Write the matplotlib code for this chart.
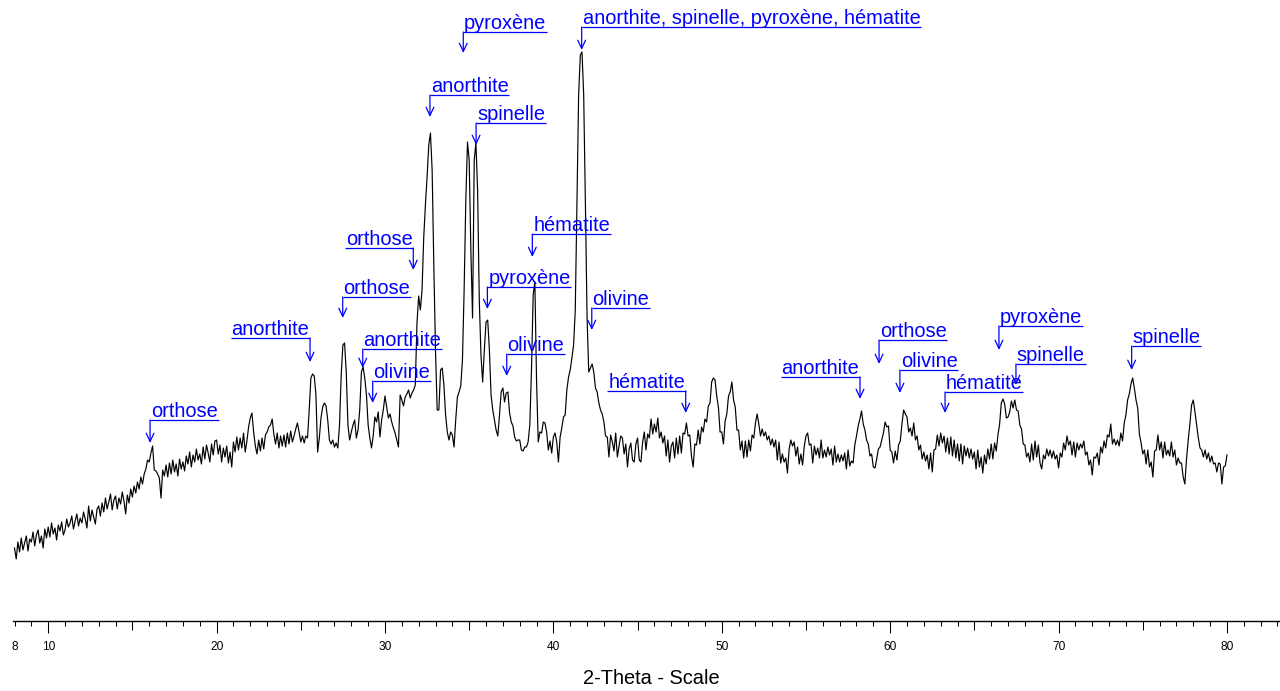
import numpy as np
import matplotlib
matplotlib.use("Agg")
import matplotlib.pyplot as plt

plt.rcParams['font.family'] = ['Liberation Sans', 'DejaVu Sans']

# Scan grid: 8.0 -> 80.0 deg 2-theta, 0.1 deg step
two_theta_start = 8.0
two_theta_step = 0.1

# Intensity (Lin counts), one row per degree
counts = [
    74, 63, 80, 70, 84, 72, 79, 86, 71, 83,            # 8
    80, 90, 76, 87, 92, 79, 86, 74, 93, 84,            # 9
    95, 85, 99, 88, 94, 82, 97, 91, 100, 87,           # 10
    92, 103, 95, 99, 106, 93, 101, 108, 96, 104,       # 11
    99, 110, 103, 94, 116, 101, 112, 105, 98, 113,     # 12
    116, 106, 119, 110, 124, 113, 120, 128, 112, 122,  # 13
    126, 113, 124, 118, 130, 121, 108, 127, 119, 133,  # 14
    125, 136, 129, 140, 133, 145, 138, 148, 153, 162,  # 15
    160, 169, 176, 152, 151, 148, 144, 124, 152, 146,  # 16
    157, 145, 159, 148, 162, 150, 158, 146, 163, 153,  # 17
    160, 151, 166, 158, 170, 155, 167, 160, 173, 162,  # 18
    168, 158, 175, 163, 177, 169, 160, 178, 167, 181,  # 19
    182, 168, 177, 160, 174, 165, 176, 159, 170, 155,  # 20
    180, 170, 185, 172, 184, 174, 189, 170, 181, 195,  # 21
    204, 209, 190, 176, 168, 182, 171, 184, 173, 187,  # 22
    190, 195, 197, 203, 188, 178, 189, 174, 186, 176,  # 23
    187, 175, 189, 178, 191, 180, 186, 193, 199, 190,  # 24
    180, 186, 179, 186, 184, 212, 244, 248, 246, 227,  # 25
    170, 184, 204, 215, 219, 216, 202, 182, 178, 182,  # 26
    175, 179, 174, 197, 247, 277, 279, 250, 197, 182,  # 27
    190, 197, 202, 184, 192, 212, 250, 255, 244, 227,  # 28
    197, 184, 174, 186, 205, 200, 210, 185, 202, 212,  # 29
    226, 215, 204, 208, 200, 194, 189, 182, 175, 227,  # 30
    222, 216, 225, 228, 232, 224, 229, 232, 237, 299,  # 31
    326, 312, 332, 384, 417, 445, 477, 489, 452, 357,  # 32
    272, 212, 212, 252, 254, 237, 207, 190, 182, 190,  # 33
    187, 175, 202, 225, 230, 236, 262, 332, 422, 480,  # 34
    462, 372, 304, 462, 479, 432, 322, 267, 240, 272,  # 35
    300, 302, 272, 227, 212, 202, 192, 186, 207, 230,  # 36
    234, 220, 229, 230, 209, 200, 196, 185, 181, 182,  # 37
    182, 172, 171, 175, 175, 180, 197, 252, 327, 340,  # 38
    242, 180, 190, 189, 200, 199, 190, 172, 181, 169,  # 39
    185, 189, 180, 160, 185, 194, 205, 207, 232, 245,  # 40
    252, 264, 277, 312, 422, 527, 567, 570, 527, 420,  # 41
    305, 250, 254, 258, 250, 234, 230, 219, 212, 208,  # 42
    200, 186, 185, 165, 187, 180, 171, 189, 165, 176,  # 43
    186, 184, 168, 178, 155, 173, 179, 162, 160, 178,  # 44
    184, 162, 160, 180, 190, 172, 188, 184, 203, 188,  # 45
    198, 190, 204, 184, 190, 179, 186, 166, 182, 160,  # 46
    176, 180, 164, 184, 168, 186, 169, 189, 188, 199,  # 47
    186, 187, 166, 155, 178, 177, 192, 178, 195, 190,  # 48
    203, 200, 216, 219, 240, 244, 242, 226, 215, 190,  # 49
    190, 178, 201, 208, 226, 230, 240, 222, 215, 192,  # 50
    192, 172, 181, 164, 181, 165, 182, 171, 187, 184,  # 51
    199, 208, 198, 186, 193, 186, 190, 182, 186, 177,  # 52
    183, 175, 182, 162, 180, 159, 168, 160, 164, 149,  # 53
    173, 182, 176, 180, 166, 175, 158, 168, 157, 176,  # 54
    186, 189, 177, 178, 159, 176, 167, 174, 164, 182,  # 55
    164, 172, 165, 175, 167, 173, 157, 176, 160, 168,  # 56
    160, 167, 161, 169, 153, 172, 156, 161, 159, 177,  # 57
    186, 196, 203, 211, 198, 192, 182, 178, 166, 168,  # 58
    155, 154, 163, 173, 175, 182, 189, 200, 195, 196,  # 59
    172, 170, 159, 171, 162, 177, 181, 198, 212, 208,  # 60
    205, 190, 194, 186, 199, 182, 186, 172, 177, 163,  # 61
    170, 161, 167, 153, 169, 150, 172, 173, 187, 176,  # 62
    189, 179, 186, 170, 184, 168, 185, 166, 182, 164,  # 63
    178, 161, 178, 158, 176, 166, 174, 164, 173, 163,  # 64
    170, 153, 172, 155, 165, 149, 167, 158, 173, 163,  # 65
    178, 163, 179, 171, 187, 198, 219, 223, 218, 204,  # 66
    205, 210, 221, 214, 222, 212, 211, 197, 193, 178,  # 67
    177, 165, 169, 160, 178, 162, 181, 165, 177, 159,  # 68
    153, 167, 163, 173, 166, 172, 164, 171, 163, 167,  # 69
    154, 169, 165, 179, 172, 186, 177, 181, 167, 180,  # 70
    165, 179, 172, 178, 174, 181, 167, 170, 157, 162,  # 71
    147, 165, 164, 169, 157, 175, 169, 181, 174, 187,  # 72
    185, 198, 178, 183, 177, 182, 176, 189, 181, 199,  # 73
    207, 222, 228, 238, 244, 234, 222, 214, 188, 179,  # 74
    168, 172, 158, 172, 155, 160, 145, 171, 172, 187,  # 75
    172, 180, 164, 180, 167, 172, 166, 180, 165, 172,  # 76
    157, 164, 159, 159, 145, 138, 163, 182, 198, 217,  # 77
    222, 210, 197, 184, 174, 172, 165, 172, 163, 169,  # 78
    160, 166, 158, 159, 150, 159, 158, 138, 155, 156,  # 79
    167,                                               # 80
]
two_theta = two_theta_start + two_theta_step * np.arange(len(counts))

# Phase identification labels
phase_names = [
    "orthose", "anorthite", "orthose", "orthose", "anorthite", "olivine",
    "anorthite", "pyroxène", "spinelle",
    "anorthite, spinelle, pyroxène, hématite",
    "hématite", "pyroxène", "olivine", "olivine", "hématite",
    "anorthite", "orthose", "olivine", "pyroxène", "spinelle", "hématite",
    "spinelle",
]
phase_2theta = [
    16.05, 25.55, 27.49, 31.68, 28.68, 29.27,
    32.67, 34.65, 35.41,
    41.68,
    38.75, 36.08, 37.23, 42.28, 47.86,
    58.21, 59.34, 60.58, 66.46, 67.47, 63.26,
    74.34,
]
# height of the label rule and of the arrow tip (same units as counts)
label_rule_y = [
    202, 284, 325, 374, 273, 241,
    527, 590, 499,
    595,
    388, 335, 268, 314, 231,
    245, 282, 252, 296, 258, 230,
    276,
]
label_tip_y = [
    179, 260, 304, 352, 254, 219,
    505, 569, 477,
    572,
    365, 313, 246, 292, 209,
    223, 258, 229, 272, 237, 209,
    252,
]
label_side = [
    "right", "left", "right", "left", "right", "right",
    "right", "right", "right",
    "right",
    "right", "right", "right", "right", "left",
    "left", "right", "right", "right", "right", "right",
    "right",
]

BLUE = "#0000ff"
W, H = 1280, 691

fig = plt.figure(figsize=(W / 100, H / 100), dpi=100)
ax = fig.add_axes([13 / W, 70 / H, 1267 / W, 621 / H])
ax.plot(two_theta, counts, color="black", lw=0.85)
ax.set_xlim(7.91, 83.15)
ax.set_ylim(1, 622)

for side in ("top", "left", "right"):
    ax.spines[side].set_visible(False)
ax.spines["bottom"].set_linewidth(1.0)
ax.set_yticks([])

major = list(range(10, 81, 10))
minor = [v for v in range(8, 84) if v % 5 != 0]
ax.set_xticks(major, [str(v) for v in major])
ax.set_xticks(minor, ["8" if v == 8 else "" for v in minor], minor=True)
ax.tick_params(axis="x", which="major", length=8.6, width=0.75, pad=6.0,
               labelsize=8.6, direction="out")
ax.tick_params(axis="x", which="minor", length=3.6, width=0.75, pad=11.0,
               labelsize=8.6, direction="out")

# intermediate ticks every 5 degrees
sec = ax.secondary_xaxis("bottom")
sec.set_xticks([v for v in range(15, 84, 10)])
sec.tick_params(length=6.4, width=0.75, labelbottom=False)
sec.spines["bottom"].set_visible(False)

fig.text(651.5 / W, 1 - 678.5 / H, "2-Theta - Scale", ha="center", va="center",
         fontsize=14.4)

# phase labels: underlined text with a bent arrow down to the reflection
fig.canvas.draw()
renderer = fig.canvas.get_renderer()
inv = ax.transData.inverted()
gap = 0.05
for name, x, ry, ty, side in zip(phase_names, phase_2theta, label_rule_y,
                                 label_tip_y, label_side):
    if side == "right":
        t = ax.text(x + gap, ry + 3, name, ha="left", va="baseline",
                    color=BLUE, fontsize=14.4)
    else:
        t = ax.text(x - gap, ry + 3, name, ha="right", va="baseline",
                    color=BLUE, fontsize=14.4)
    bb = t.get_window_extent(renderer=renderer)
    (x0, _), (x1, _) = inv.transform([[bb.x0, bb.y0], [bb.x1, bb.y0]])
    if side == "right":
        ax.plot([x, x1 + 0.05], [ry, ry], color=BLUE, lw=0.9,
                solid_capstyle="butt")
    else:
        ax.plot([x0 - 0.05, x], [ry, ry], color=BLUE, lw=0.9,
                solid_capstyle="butt")
    ax.annotate("", xy=(x, ty), xytext=(x, ry),
                arrowprops=dict(arrowstyle="->,head_length=0.6,head_width=0.28",
                                color=BLUE, lw=0.9, shrinkA=0, shrinkB=0))

fig.savefig("out.png", dpi=100)
